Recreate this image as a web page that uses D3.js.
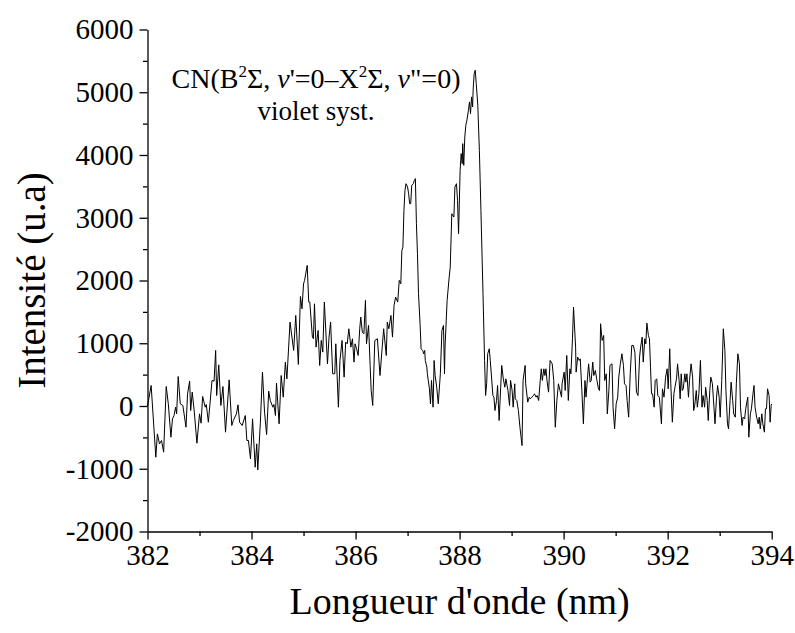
<!DOCTYPE html>
<html>
<head>
<meta charset="utf-8">
<script src="https://cdn.jsdelivr.net/npm/d3@7"></script>
<style>
  body { margin: 0; background: #fff; }
</style>
</head>
<body>
<svg id="chart" width="795" height="633"></svg>
<script>
// spectrum (nm, u.a)
const wavelength = [
  382.00, 382.07, 382.16, 382.19, 382.23, 382.27, 382.31, 382.36, 382.40, 382.45,
  382.48, 382.51, 382.54, 382.56, 382.59, 382.63, 382.68, 382.74, 382.77, 382.81,
  382.83, 382.86, 382.90, 382.95, 383.00, 383.03, 383.06, 383.11, 383.13, 383.17,
  383.24, 383.28, 383.31, 383.33, 383.37, 383.41, 383.45, 383.50, 383.57, 383.62,
  383.65, 383.71, 383.74, 383.77, 383.82, 383.88, 383.91, 383.94, 383.98, 384.02,
  384.07, 384.10, 384.12, 384.17, 384.21, 384.25, 384.29, 384.33, 384.36, 384.41,
  384.43, 384.46, 384.48, 384.53, 384.57, 384.61, 384.65, 384.68, 384.74, 384.81,
  384.85, 384.90, 384.94, 384.97, 385.00, 385.02, 385.07,
  385.10, 385.12, 385.17, 385.19, 385.21, 385.24, 385.28, 385.31, 385.34, 385.37,
  385.40, 385.46, 385.49, 385.52, 385.56, 385.60, 385.62, 385.67, 385.70, 385.74,
  385.78, 385.81, 385.84, 385.87, 385.91, 385.94, 385.97, 385.99, 386.02, 386.05,
  386.08, 386.10, 386.13, 386.16, 386.19, 386.21, 386.25, 386.28, 386.30, 386.33,
  386.37, 386.42, 386.47, 386.54, 386.59, 386.61, 386.64, 386.68, 386.71, 386.74,
  386.77, 386.81, 386.84, 386.87,
  386.89, 386.91, 386.93, 386.95, 386.97, 387.00, 387.02, 387.04, 387.06, 387.08,
  387.11, 387.13, 387.15, 387.17, 387.19, 387.21, 387.24, 387.26, 387.29, 387.31,
  387.33, 387.34, 387.37, 387.38, 387.42, 387.44, 387.46, 387.49, 387.51, 387.53,
  387.56, 387.59, 387.63, 387.66, 387.69, 387.71, 387.72, 387.76, 387.80, 387.82,
  387.85, 387.89, 387.91, 387.94, 387.96, 387.98, 388.01, 388.03, 388.05, 388.06,
  388.08, 388.10, 388.12, 388.14, 388.17, 388.19, 388.21, 388.23, 388.25, 388.26,
  388.28, 388.30, 388.32, 388.35, 388.38, 388.41, 388.45, 388.48, 388.50, 388.52,
  388.54, 388.57, 388.59,
  388.64, 388.66, 388.68, 388.71, 388.73, 388.76, 388.79, 388.81, 388.84, 388.87,
  388.89, 388.93, 388.96, 388.98, 389.01, 389.03, 389.06, 389.07, 389.10, 389.13,
  389.16, 389.20, 389.22, 389.26, 389.27, 389.31, 389.34, 389.36, 389.39, 389.42,
  389.44, 389.47, 389.49, 389.52, 389.55, 389.57, 389.59, 389.62, 389.64, 389.66,
  389.68, 389.71, 389.74, 389.78, 389.81, 389.84, 389.87, 389.90, 389.93, 389.96,
  389.97, 390.01, 390.03, 390.06, 390.09, 390.12, 390.14, 390.17, 390.19, 390.23,
  390.24, 390.27, 390.30, 390.32, 390.35, 390.38, 390.41, 390.43, 390.46, 390.48,
  390.51, 390.53, 390.56, 390.58, 390.61, 390.64, 390.67, 390.69, 390.71, 390.74,
  390.77, 390.79, 390.82, 390.84, 390.87, 390.89, 390.93, 390.95, 390.98, 391.01,
  391.04, 391.06, 391.09, 391.12, 391.15, 391.17, 391.20, 391.22, 391.25, 391.28,
  391.31, 391.34, 391.37, 391.40, 391.43, 391.46, 391.48,
  391.51, 391.53, 391.56, 391.58, 391.60, 391.63, 391.65, 391.67, 391.69, 391.71,
  391.74, 391.76, 391.79, 391.81, 391.84, 391.88, 391.90, 391.93, 391.96, 391.99,
  392.01, 392.04, 392.06, 392.09, 392.12, 392.14, 392.17, 392.19, 392.22, 392.24,
  392.26, 392.28, 392.30, 392.33, 392.35, 392.37, 392.40, 392.42, 392.45, 392.48,
  392.50, 392.52, 392.55, 392.57, 392.60, 392.63, 392.66, 392.68, 392.71, 392.73,
  392.76, 392.78, 392.81, 392.83, 392.86, 392.89, 392.91, 392.94, 392.96, 392.99,
  393.01, 393.04, 393.07, 393.10, 393.12, 393.15, 393.17, 393.20, 393.22, 393.25,
  393.27, 393.30, 393.32, 393.35, 393.38, 393.40, 393.43, 393.45, 393.48, 393.50,
  393.54, 393.56, 393.59, 393.61, 393.64, 393.66, 393.68, 393.71, 393.74, 393.76,
  393.78, 393.81, 393.83, 393.86, 393.88, 393.90, 393.92, 393.95, 393.97, 393.99,
  394.00
];
const intensity = [
  0, 327, -816, -444, -603, -550, -736, 311, 35, -497,
  -205, -152, -19, -125, 470, 35, 8, -338, 194, 396,
  -72, 221, -98, -593, -125, -274, 152, -19, 24, -258,
  407, 396, 885, 167, 656, 8, 311, -417, 417, -311,
  -231, -125, 19, -258, -311, -152, -550, -550, -843, -205,
  -976, -603, -1018, -258, 540, -98, -455, 237, 88, -19,
  24, -152, 364, -284, 486, 141, 699, 433, 1337, 885,
  1443, 662, 1746, 1549, 1948, 2002, 2241,
  1656, 1656, 1098, 1071, 1629, 938, 1204, 646, 1045, 859,
  1656, 672, 1098, 1337, 513, 513, 991, -19, 726, 1045,
  460, 1018, 991, 1231, 938, 1071, 699, 991, 912, 805,
  1231, 1417, 1177, 1151, 1683, 991, 1284, 646, 247, 8,
  1045, 1071, 486, 1231, 805, 1337, 1231, 1443, 1098, 1603,
  1736, 1656, 2002, 1948,
  2480, 2533, 3118, 3437, 3543, 3490, 3384, 3224, 3224, 3517,
  3543, 3596, 3623, 2905, 2427, 1789, 1311, 912, 885, 832,
  885, 726, 619, 513, 274, 35, 407, -19, 726, 486,
  300, 35, 513, 1204, 1284, 513, 938, 1682, 2055, 2214,
  3064, 3011, 3490, 3543, 3277, 2746, 3756, 4022, 3862, 4181,
  3836, 4288, 4474, 4553, 4713, 4846, 4660, 4926, 4766, 5032,
  5298, 5351, 5138, 4793, 4075, 3118, 1789, 726, 168, 354,
  832, 912, 726,
  167, 141, -72, 88, 327, -231, 300, 646, 433, 300,
  433, 247, 8, 407, 247, -19, 354, 114, 88, -72,
  -338, -630, 407, 646, 354, 61, 141, 114, 141, 167,
  194, 141, 167, 88, 407, 593, 407, 593, 486, 593,
  407, 221, 726, 672, 407, -338, 88, 354, 247, 141,
  354, 540, 247, 805, 88, 593, 513, 1071, 1576, 938,
  540, 779, 726, 752, 247, -284, 407, 141, 460, 672,
  380, 407, 699, 486, 566, 407, 274, 247, 1311, 1045,
  1124, 407, 513, -125, 247, 646, 672, -19, -364, 35,
  141, 460, 672, 832, 646, 354, 327, 88, -178, 513,
  965, 965, 858, 221, 167, 779, 938,
  1098, 699, 1071, 991, 1321, 1124, 1071, 619, 194, 194,
  -19, 407, 433, 167, 141, -284, 274, 141, 460, 593,
  274, 912, 354, -258, 194, 300, 433, 672, 407, 114,
  513, 247, 274, 513, 380, 513, 141, 407, 672, 460,
  -72, 8, 247, -19, 194, 726, -19, 167, -19, 300,
  88, -231, 247, 460, 354, -19, -284, 141, 327, 141,
  -178, 407, 1231, 885, 247, -284, -364, 88, 380, 88,
  -125, -178, 354, 832, 672, -19, -311, -178, -205, -45,
  141, -497, -125, -45, 194, 327, -19, -178, -284, -178,
  -364, -125, -284, -417, -45, -45, 274, 167, -258, 8,
  35
];

const xDomain = [382, 394];
const yDomain = [-2000, 6000];
const xMajorTicks = [382, 384, 386, 388, 390, 392, 394];
const xMinorTicks = [383, 385, 387, 389, 391, 393];
const yMajorTicks = [-2000, -1000, 0, 1000, 2000, 3000, 4000, 5000, 6000];
const yMinorTicks = [-1500, -500, 500, 1500, 2500, 3500, 4500, 5500];
const xTitle = "Longueur d'onde (nm)";
const yTitle = "Intensité (u.a)";

const serif = "Liberation Serif";

const svg = d3.select("#chart");
const plot = { left: 147.5, right: 771.7, top: 29.5, bottom: 531.5 };

const x = d3.scaleLinear().domain(xDomain).range([plot.left, plot.right]);
const y = d3.scaleLinear().domain(yDomain).range([plot.bottom, plot.top]);

// minor ticks first, no labels
svg.append("g")
    .attr("transform", `translate(0,${plot.bottom})`)
    .call(d3.axisBottom(x).tickValues(xMinorTicks).tickSize(4.5).tickFormat("").tickSizeOuter(0))
    .call(g => g.select(".domain").remove());
svg.append("g")
    .attr("transform", `translate(${plot.left},0)`)
    .call(d3.axisLeft(y).tickValues(yMinorTicks).tickSize(4.5).tickFormat("").tickSizeOuter(0))
    .call(g => g.select(".domain").remove());

// major ticks + axis lines
svg.append("g")
    .attr("transform", `translate(0,${plot.bottom})`)
    .call(d3.axisBottom(x).tickValues(xMajorTicks).tickSize(8).tickSizeOuter(0).tickPadding(5)
      .tickFormat(d => String(d)));
svg.append("g")
    .attr("transform", `translate(${plot.left},0)`)
    .call(d3.axisLeft(y).tickValues(yMajorTicks).tickSize(8).tickSizeOuter(0).tickPadding(6)
      .tickFormat(d => String(d)));

svg.selectAll("g").attr("font-family", serif).attr("font-size", 29);
svg.selectAll(".domain, .tick line").attr("stroke", "#000").attr("stroke-width", 1.3);
svg.selectAll(".tick text").attr("fill", "#000");

// spectrum
const pts = wavelength.map((w, i) => [w, intensity[i]]);
svg.append("path")
    .datum(pts)
    .attr("fill", "none")
    .attr("stroke", "#000")
    .attr("stroke-width", 1)
    .attr("stroke-linejoin", "round")
    .attr("d", d3.line().x(d => x(d[0])).y(d => y(d[1])));

// axis titles
svg.append("text")
    .attr("x", (plot.left + plot.right) / 2)
    .attr("y", 614)
    .attr("text-anchor", "middle")
    .attr("font-family", serif)
    .attr("font-size", 38)
    .text(xTitle);
svg.append("text")
    .attr("transform", `translate(45,${(plot.top + plot.bottom) / 2}) rotate(-90)`)
    .attr("text-anchor", "middle")
    .attr("font-family", serif)
    .attr("font-size", 39)
    .text(yTitle);

// annotation
const ann = svg.append("text")
    .attr("x", 316)
    .attr("y", 88)
    .attr("text-anchor", "middle")
    .attr("font-family", serif)
    .attr("font-size", 28);
ann.append("tspan").text("CN(B");
ann.append("tspan").attr("dy", -11).attr("font-size", 17).text("2");
ann.append("tspan").attr("dy", 11).text("Σ, ");
ann.append("tspan").attr("font-style", "italic").text("v");
ann.append("tspan").text("'=0–X");
ann.append("tspan").attr("dy", -11).attr("font-size", 17).text("2");
ann.append("tspan").attr("dy", 11).text("Σ, ");
ann.append("tspan").attr("font-style", "italic").text("v");
ann.append("tspan").text("\"=0)");

svg.append("text")
    .attr("x", 316)
    .attr("y", 120)
    .attr("text-anchor", "middle")
    .attr("font-family", serif)
    .attr("font-size", 27)
    .text("violet syst.");
</script>
</body>
</html>
